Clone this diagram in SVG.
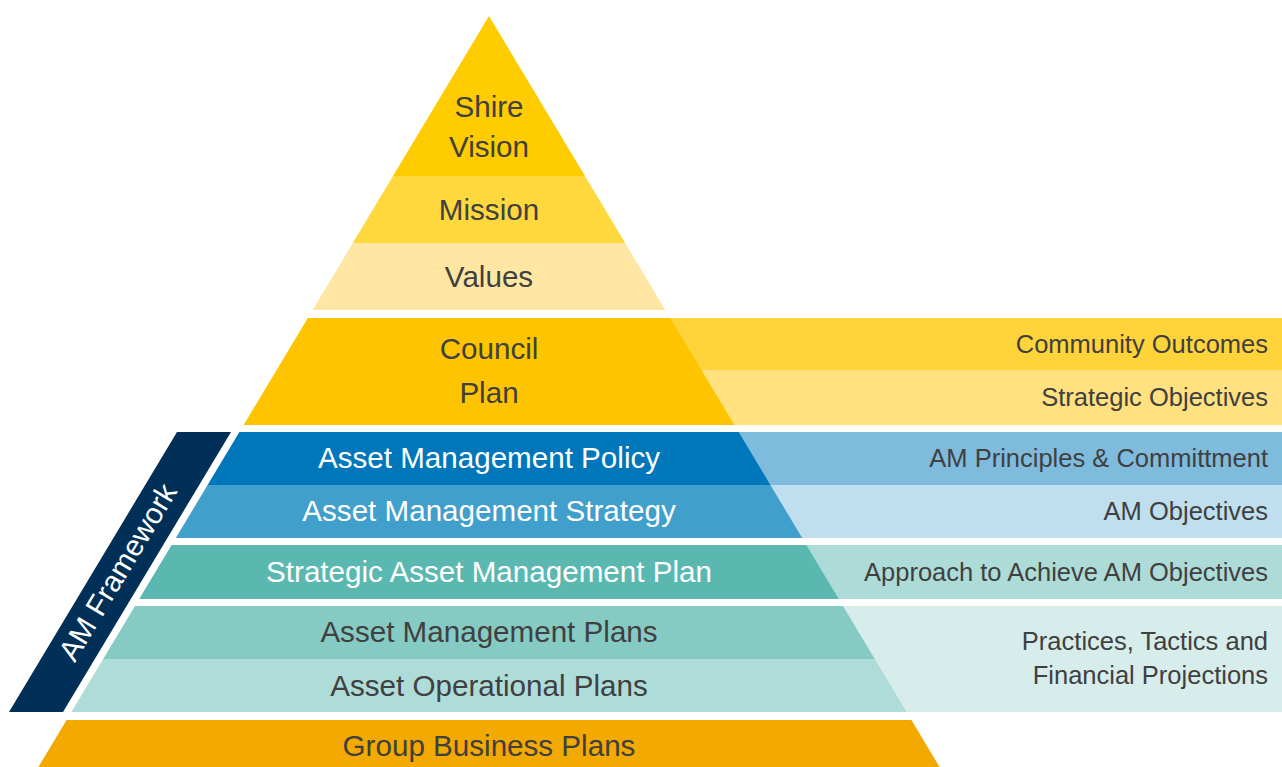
<svg xmlns="http://www.w3.org/2000/svg" width="1282" height="767" viewBox="0 0 1282 767">
<style>
.t{font-family:"Liberation Sans",Arial,sans-serif;font-size:29.6px;fill:#404040;text-anchor:middle}
.w{fill:#ffffff}
.r{font-family:"Liberation Sans",Arial,sans-serif;font-size:25.5px;fill:#404040;text-anchor:end}
</style>
<rect width="1282" height="767" fill="#ffffff"/>
<g id="right-bands">
<rect x="489" y="318" width="793" height="52" fill="#FFD43B"/>
<rect x="489" y="370" width="793" height="55" fill="#FFE180"/>
<rect x="489" y="432" width="793" height="53" fill="#7FBBDD"/>
<rect x="489" y="485" width="793" height="53" fill="#BFDFEF"/>
<rect x="489" y="545" width="793" height="54" fill="#ADDCD8"/>
<rect x="489" y="606" width="793" height="106" fill="#D6EDEB"/>
</g>
<g id="shire-vision"><polygon points="489,16 585,176 393,176" fill="#FFCC00"/><text class="t" x="489" y="117">Shire</text><text class="t" x="489" y="157">Vision</text></g>
<g id="mission"><polygon points="393,176 585,176 625.2,243 352.8,243" fill="#FFD83D"/><text class="t" x="489" y="220">Mission</text></g>
<g id="values"><polygon points="352.8,243 625.2,243 665.4,310 312.6,310" fill="#FFE7A3"/><text class="t" x="489" y="287">Values</text></g>
<g id="council-plan"><polygon points="307.8,318 670.2,318 734.4,425 243.6,425" fill="#FFC400"/><text class="t" x="489" y="359">Council</text><text class="t" x="489" y="403">Plan</text></g>
<g id="am-policy"><polygon points="239.4,432 738.6,432 770.4,485 207.6,485" fill="#0077BB"/><text class="t w" x="489" y="468">Asset Management Policy</text></g>
<g id="am-strategy"><polygon points="207.6,485 770.4,485 802.2,538 175.8,538" fill="#419FCC"/><text class="t w" x="489" y="521">Asset Management Strategy</text></g>
<g id="samp"><polygon points="171.6,545 806.4,545 838.8,599 139.2,599" fill="#5BB8B1"/><text class="t w" x="489" y="582">Strategic Asset Management Plan</text></g>
<g id="am-plans"><polygon points="135,606 843,606 874.8,659 103.2,659" fill="#86CAC4"/><text class="t" x="489" y="642">Asset Management Plans</text></g>
<g id="aop"><polygon points="103.2,659 874.8,659 906.6,712 71.4,712" fill="#AEDCD8"/><text class="t" x="489" y="696">Asset Operational Plans</text></g>
<g id="group-business-plans"><polygon points="66.6,720 911.4,720 939.6,767 38.4,767" fill="#F2A900"/><text class="t" x="489" y="756">Group Business Plans</text></g>
<g id="am-framework"><polygon points="177,432 231,432 63,712 9,712" fill="#003057"/><text class="t w" x="0" y="0" font-size="23.5" transform="translate(119,573) rotate(-59)" dy="8.5">AM Framework</text></g>
<g id="labels">
<text class="r" x="1268" y="353">Community Outcomes</text>
<text class="r" x="1268" y="406">Strategic Objectives</text>
<text class="r" x="1268" y="467">AM Principles &amp; Committment</text>
<text class="r" x="1268" y="520">AM Objectives</text>
<text class="r" x="1268" y="581">Approach to Achieve AM Objectives</text>
<text class="r" x="1268" y="650">Practices, Tactics and</text>
<text class="r" x="1268" y="684">Financial Projections</text>
</g>
<g id="connectors"/>
</svg>
